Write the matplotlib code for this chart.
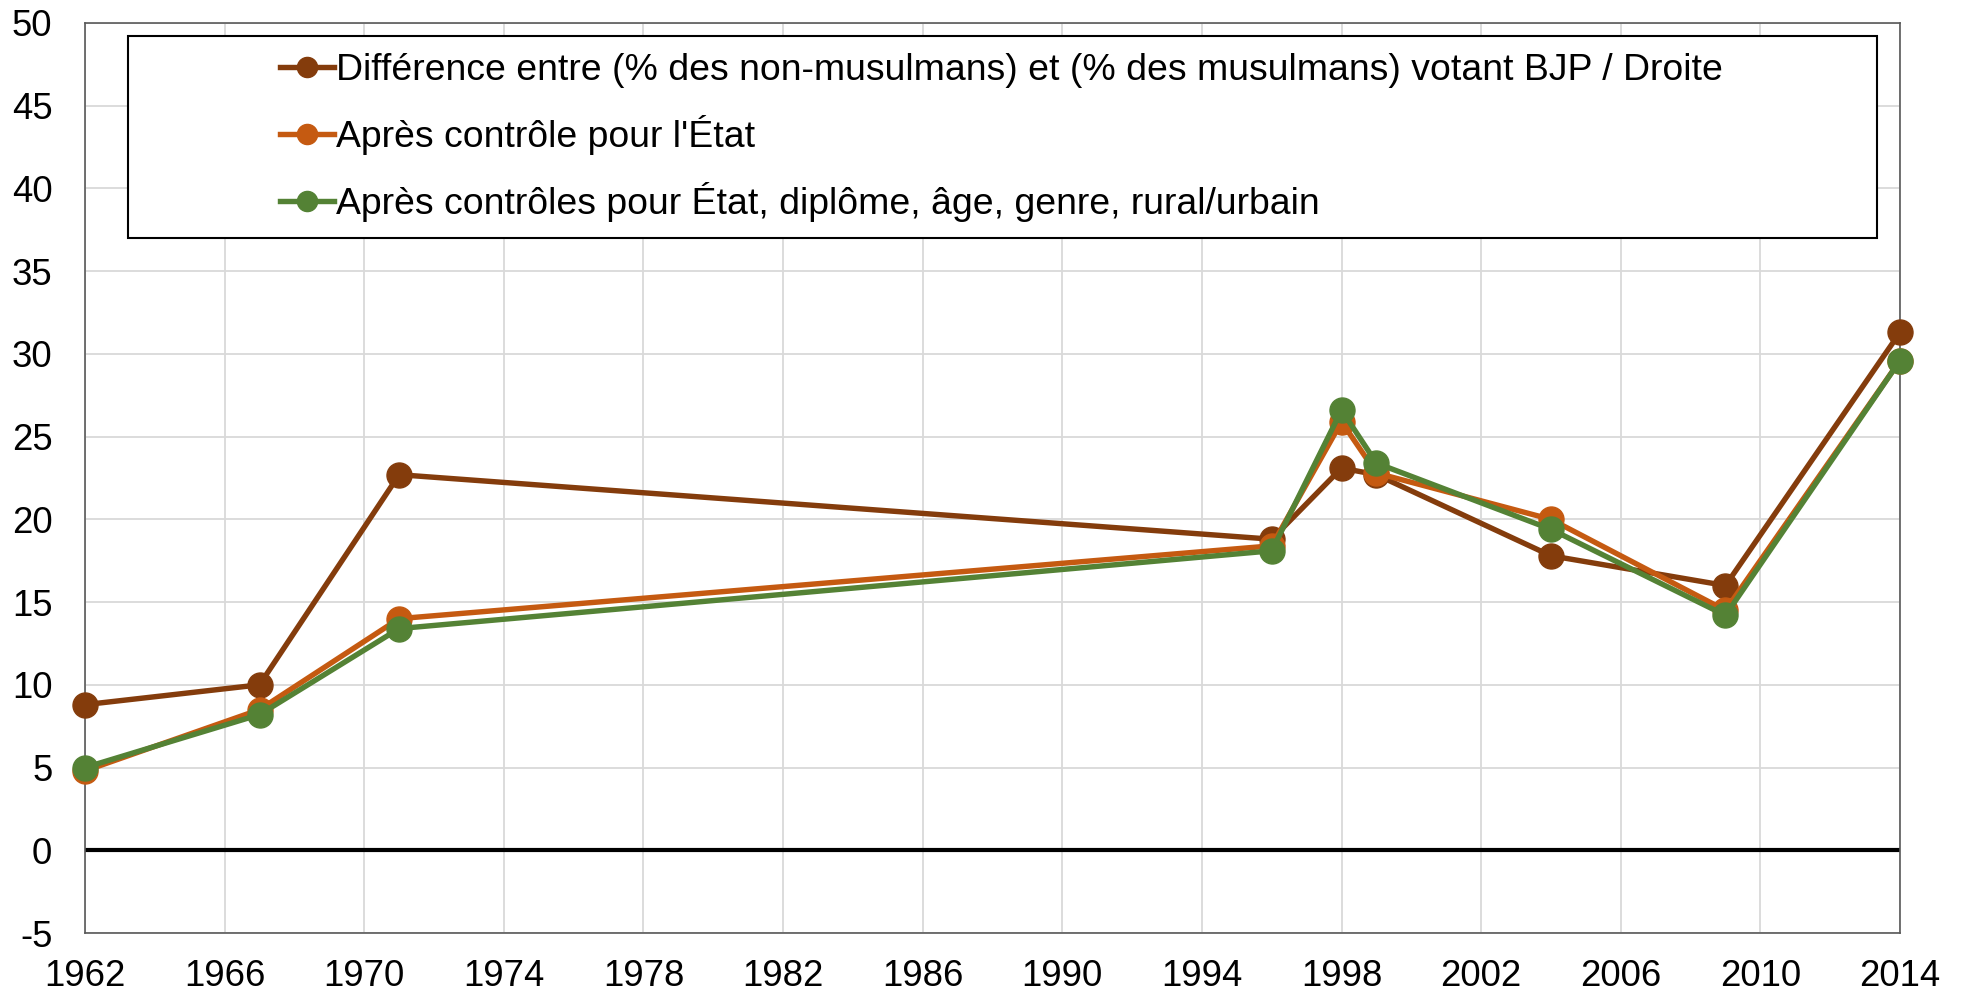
import matplotlib
matplotlib.use("Agg")
import matplotlib.pyplot as plt
from matplotlib.lines import Line2D
from matplotlib.patches import Rectangle

plt.rcParams['font.family'] = ['Liberation Sans', 'DejaVu Sans']
plt.rcParams['axes.unicode_minus'] = False

years = [1962, 1967, 1971, 1996, 1998, 1999, 2004, 2009, 2014]
diff_raw = [8.8, 10.0, 22.7, 18.8, 23.1, 22.7, 17.8, 16.0, 31.3]
diff_state = [4.8, 8.5, 14.0, 18.4, 25.9, 22.8, 20.0, 14.5, 29.6]
diff_all = [5.0, 8.2, 13.4, 18.1, 26.6, 23.4, 19.4, 14.2, 29.6]

labels = [
    "Différence entre (% des non-musulmans) et (% des musulmans) votant BJP / Droite",
    "Après contrôle pour l'État",
    "Après contrôles pour État, diplôme, âge, genre, rural/urbain",
]
colors = ["#843C0C", "#C55A11", "#548235"]
series = [diff_raw, diff_state, diff_all]

xticks = list(range(1962, 2015, 4))
yticks = list(range(-5, 51, 5))

FS = 26.3
LFS = 26.9

fig = plt.figure(figsize=(19.66, 9.96), dpi=100)
ax = fig.add_axes([85/1966, 1-933/996, (1900-85)/1966, (933-23)/996])

ax.axhline(0, color="black", lw=3.0, zorder=2)
for s, c, lab in zip(series, colors, labels):
    ax.plot(years, s, color=c, lw=3.9, marker="o", markersize=18,
            label=lab, zorder=3, solid_joinstyle="round", clip_on=False)

ax.set_xlim(1962, 2014)
ax.set_ylim(-5, 50)
ax.set_xticks(xticks)
ax.set_yticks(yticks)
ax.grid(True, color="#D9D9D9", lw=1.3, zorder=0)
ax.set_axisbelow(True)
ax.tick_params(length=0, labelsize=FS)
ax.tick_params(axis='x', pad=19)
ax.tick_params(axis='y', pad=23.5)
for sp in ax.spines.values():
    sp.set_color("#595959")
    sp.set_linewidth(1.2)

# legend box
W = 1815.0
H = 910.0
x0 = (128-85)/W
x1 = (1877-85)/W
y0 = 1-(238-23)/H
y1 = 1-(36-23)/H
ax.add_patch(Rectangle((x0, y0), x1-x0, y1-y0, transform=ax.transAxes,
                       facecolor="white", edgecolor="black", lw=1.5, zorder=4))
handles = [Line2D([0], [0], color=c, lw=3.9, marker="o", markersize=14.5) for c in colors]
leg = ax.legend(handles, labels, loc="upper left",
                bbox_to_anchor=((280-85)/W, 1-(53-23)/H),
                frameon=False, fontsize=LFS, handlelength=1.45,
                handletextpad=0.05, labelspacing=0.72, borderpad=0,
                borderaxespad=0)
leg.set_zorder(5)

fig.savefig("out.png", dpi=100)
